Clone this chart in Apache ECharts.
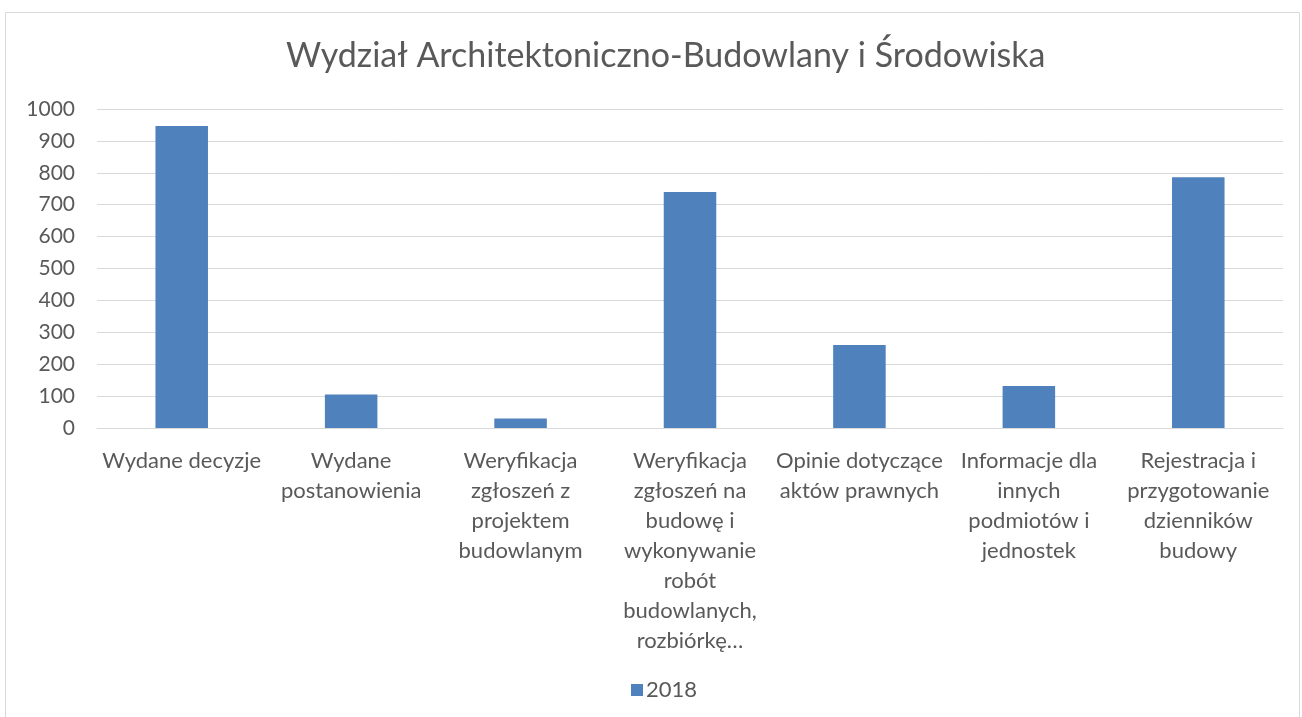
<!DOCTYPE html>
<html><head><meta charset="utf-8">
<script src="https://cdn.jsdelivr.net/npm/echarts@6/dist/echarts.min.js"></script>
<style>html,body{margin:0;padding:0;background:#fff}#c{width:1302px;height:717px}</style>
</head><body><div id="c"></div>
<script>
const title = 'Wydział Architektoniczno-Budowlany i Środowiska';
const categories = [
  'Wydane decyzje',
  'Wydane\npostanowienia',
  'Weryfikacja\nzgłoszeń z\nprojektem\nbudowlanym',
  'Weryfikacja\nzgłoszeń na\nbudowę i\nwykonywanie\nrobót\nbudowlanych,\nrozbiórkę…',
  'Opinie dotyczące\naktów prawnych',
  'Informacje dla\ninnych\npodmiotów i\njednostek',
  'Rejestracja i\nprzygotowanie\ndzienników\nbudowy'
];
const seriesName = '2018';
const values2018 = [947, 105, 30, 740, 260, 132, 786];
const yTicks = {min: 0, max: 1000, interval: 100};

const FONT = 'Lato';
const chart = echarts.init(document.getElementById('c'), null, {renderer: 'canvas'});
chart.setOption({
  animation: false,
  backgroundColor: '#fff',
  graphic: [{
    type: 'rect', left: 3, top: 10, shape: {width: 1294, height: 720},
    style: {fill: 'none', stroke: '#d9d9d9', lineWidth: 1}, silent: true
  }],
  title: {
    text: title, left: 281, top: 34,
    textStyle: {fontFamily: FONT, fontSize: 34, fontWeight: 'normal', color: '#595959'}
  },
  legend: {
    data: [seriesName], top: 674, left: 626,
    itemWidth: 12, itemHeight: 12, itemGap: 4, icon: 'rect',
    textStyle: {fontFamily: FONT, fontSize: 22, color: '#595959', padding: [0,0,0,-2]}
  },
  grid: {left: 97, right: 19, top: 109, bottom: 289, containLabel: false},
  xAxis: {
    type: 'category', data: categories,
    axisLine: {show: true, lineStyle: {color: '#d9d9d9', width: 1}},
    axisTick: {show: false},
    axisLabel: {fontFamily: FONT, fontSize: 22, color: '#595959', lineHeight: 30, margin: 18, interval: 0}
  },
  yAxis: {
    type: 'value', min: yTicks.min, max: yTicks.max, interval: yTicks.interval,
    axisLine: {show: false}, axisTick: {show: false},
    splitLine: {lineStyle: {color: '#d9d9d9', width: 1}},
    axisLabel: {fontFamily: FONT, fontSize: 21, color: '#595959', margin: 22,
      formatter: v => String(v)}
  },
  series: [{
    name: seriesName, type: 'bar', data: values2018, barWidth: '31%',
    itemStyle: {color: '#4f81bd'}
  }]
});
</script></body></html>
